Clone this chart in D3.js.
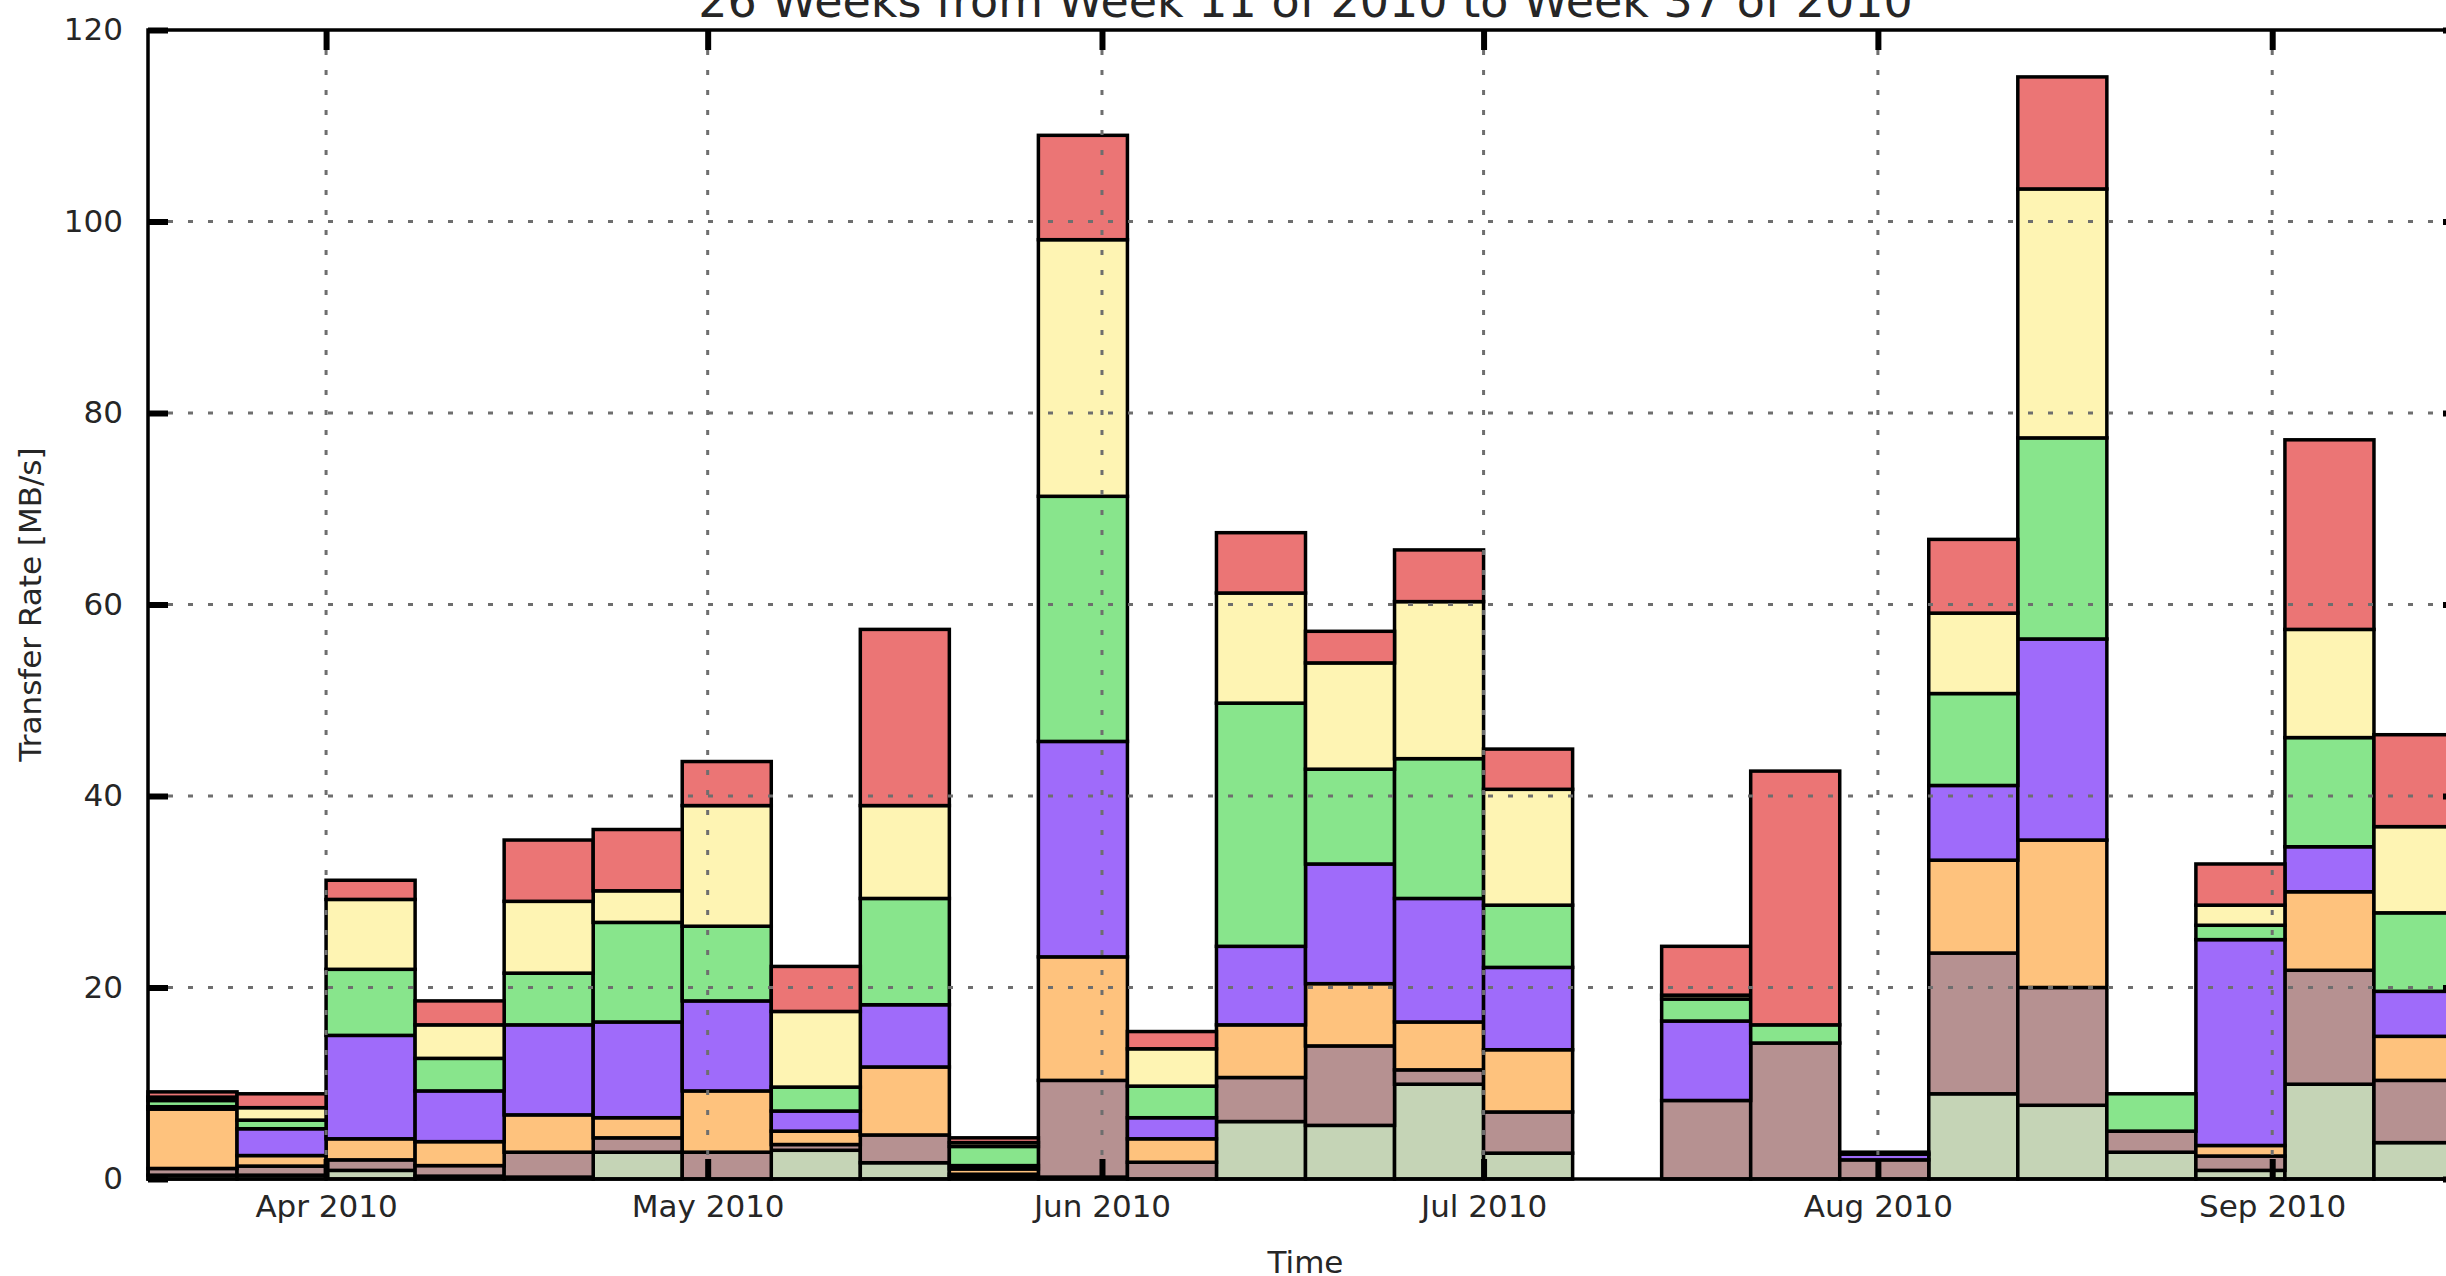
<!DOCTYPE html>
<html>
<head>
<meta charset="utf-8">
<script src="https://cdn.jsdelivr.net/npm/d3@7"></script>
<style>
  html, body { margin: 0; padding: 0; background: #fff; }
  svg { display: block; font-family: "DejaVu Sans", sans-serif; }
</style>
</head>
<body>
<svg id="chart" width="2446" height="1276"></svg>
<script>
// Weekly bins (start date of each week) and the end of the last bin
const weekStarts = [
  "2010-03-18", "2010-03-25", "2010-04-01", "2010-04-08", "2010-04-15", "2010-04-22",
  "2010-04-29", "2010-05-06", "2010-05-13", "2010-05-20", "2010-05-27", "2010-06-03",
  "2010-06-10", "2010-06-17", "2010-06-24", "2010-07-01", "2010-07-08", "2010-07-15",
  "2010-07-22", "2010-07-29", "2010-08-05", "2010-08-12", "2010-08-19", "2010-08-26",
  "2010-09-02", "2010-09-09"
];
const periodEnd = "2010-09-16";

// Transfer rate per week [MB/s], one array per stacked layer (bottom to top)
const series1 = [0.4, 0.4, 0.9, 0.3, 0.2, 2.8, 0.0, 3.0, 1.7, 0.2, 0.2, 0.0, 6.0, 5.6, 9.9, 2.7, 0, 0.0, 0.0, 0.0, 8.9, 7.7, 2.8, 0.9, 9.9, 3.8];
const series2 = [0.7, 0.95, 1.1, 1.1, 2.6, 1.5, 2.8, 0.6, 2.9, 0.3, 10.1, 1.75, 4.6, 8.3, 1.5, 4.3, 0, 8.2, 14.2, 2.0, 14.7, 12.3, 2.2, 1.5, 11.9, 6.5];
const series3 = [6.2, 1.1, 2.2, 2.5, 3.9, 2.1, 6.4, 1.4, 7.1, 0.55, 12.9, 2.45, 5.5, 6.5, 5.0, 6.5, 0, 0.0, 0.0, 0.0, 9.7, 15.4, 0.0, 1.1, 8.2, 4.6];
const series4 = [0.25, 2.8, 10.8, 5.3, 9.4, 10.0, 9.4, 2.1, 6.5, 0.35, 22.5, 2.2, 8.2, 12.5, 12.9, 8.6, 0, 8.3, 0.0, 0.6, 7.8, 21.0, 0.0, 21.5, 4.7, 4.7];
const series5 = [0.65, 0.9, 6.9, 3.4, 5.4, 10.4, 7.8, 2.5, 11.1, 2.0, 25.6, 3.3, 25.4, 9.9, 14.6, 6.5, 0, 2.3, 1.9, 0.0, 9.6, 21.0, 3.9, 1.5, 11.4, 8.2];
const series6 = [0.35, 1.3, 7.3, 3.5, 7.5, 3.3, 12.6, 7.9, 9.7, 0.4, 26.8, 3.9, 11.5, 11.1, 16.4, 12.1, 0, 0.4, 0.0, 0.0, 8.4, 26.0, 0.0, 2.1, 11.3, 9.0];
const series7 = [0.55, 1.45, 2.0, 2.5, 6.4, 6.4, 4.6, 4.7, 18.4, 0.5, 10.9, 1.8, 6.3, 3.3, 5.4, 4.2, 0, 5.1, 26.5, 0.2, 7.7, 11.7, 0.0, 4.3, 19.8, 9.6];

const seriesKeys = ["series1", "series2", "series3", "series4", "series5", "series6", "series7"];
const seriesValues = [series1, series2, series3, series4, series5, series6, series7];
const seriesColors = ["#c5d4b6", "#b69191", "#fec27d", "#9f6bfa", "#88e58c", "#fef4b3", "#eb7575"];

// Axis ticks and labels
const yTicks = [0, 20, 40, 60, 80, 100, 120];
const monthTicks = ["2010-04-01", "2010-05-01", "2010-06-01", "2010-07-01", "2010-08-01", "2010-09-01"];
const titleText = "26 Weeks from Week 11 of 2010 to Week 37 of 2010";
const xLabel = "Time";
const yLabel = "Transfer Rate [MB/s]";

// ---- layout ----
const W = 2446, H = 1276;
const plot = { left: 148, right: 2463, top: 30, bottom: 1179 };
const textColor = "#262626";
const fontSize = 31;

const parse = d3.utcParse("%Y-%m-%d");
const svg = d3.select("#chart");

const x = d3.scaleUtc()
  .domain([parse(weekStarts[0]), parse(periodEnd)])
  .range([plot.left, plot.right]);
const y = d3.scaleLinear()
  .domain([0, 120])
  .range([plot.bottom, plot.top]);

// Stack the layers week by week
const rows = weekStarts.map((d, i) => {
  const row = { start: parse(d), end: parse(i + 1 < weekStarts.length ? weekStarts[i + 1] : periodEnd) };
  seriesKeys.forEach((k, j) => { row[k] = seriesValues[j][i]; });
  return row;
});
const stacked = d3.stack().keys(seriesKeys)(rows);

const barsG = svg.append("g").attr("class", "bars");
stacked.forEach((layer, j) => {
  barsG.append("g")
    .attr("fill", seriesColors[j])
    .selectAll("rect")
    .data(layer.filter(d => d[1] - d[0] > 0))
    .join("rect")
    .attr("x", d => x(d.data.start))
    .attr("width", d => x(d.data.end) - x(d.data.start))
    .attr("y", d => y(d[1]))
    .attr("height", d => y(d[0]) - y(d[1]))
    .attr("stroke", "#000")
    .attr("stroke-width", 3.5);
});

// Dotted grid drawn above the bars
const gridG = svg.append("g")
  .attr("stroke", "#6e6e6e")
  .attr("stroke-width", 3)
  .attr("stroke-dasharray", "5,15");
gridG.selectAll("line.h")
  .data(yTicks.filter(v => v > 0 && v < 120))
  .join("line")
  .attr("x1", plot.left).attr("x2", plot.right)
  .attr("y1", d => y(d)).attr("y2", d => y(d));
gridG.selectAll("line.v")
  .data(monthTicks.map(parse))
  .join("line")
  .attr("x1", d => x(d)).attr("x2", d => x(d))
  .attr("y1", plot.top).attr("y2", plot.bottom);

// Axes: inward ticks on all four sides
const tickLen = 20;
const styleAxis = g => {
  g.select(".domain").remove();
  g.selectAll(".tick line").attr("stroke", "#000").attr("stroke-width", 6);
  g.selectAll(".tick text")
    .attr("fill", textColor)
    .attr("font-size", fontSize)
    .attr("font-family", "DejaVu Sans, sans-serif");
};

svg.append("g")
  .attr("transform", `translate(${plot.left},0)`)
  .call(d3.axisLeft(y).tickValues(yTicks).tickSizeInner(-tickLen).tickSizeOuter(0).tickPadding(25))
  .call(styleAxis);

svg.append("g")
  .attr("transform", `translate(${plot.right},0)`)
  .call(d3.axisRight(y).tickValues(yTicks).tickSizeInner(-tickLen).tickSizeOuter(0).tickFormat(""))
  .call(styleAxis);

svg.append("g")
  .attr("transform", `translate(0,${plot.bottom})`)
  .call(d3.axisBottom(x).tickValues(monthTicks.map(parse)).tickFormat(d3.utcFormat("%b %Y"))
    .tickSizeInner(-tickLen).tickSizeOuter(0).tickPadding(16))
  .call(styleAxis);

svg.append("g")
  .attr("transform", `translate(0,${plot.top})`)
  .call(d3.axisTop(x).tickValues(monthTicks.map(parse)).tickFormat("")
    .tickSizeInner(-tickLen).tickSizeOuter(0))
  .call(styleAxis);

// Frame
svg.append("rect")
  .attr("x", plot.left).attr("y", plot.top)
  .attr("width", plot.right - plot.left).attr("height", plot.bottom - plot.top)
  .attr("fill", "none").attr("stroke", "#000").attr("stroke-width", 3.5);

// Title and axis labels
svg.append("text")
  .attr("x", (plot.left + plot.right) / 2).attr("y", 17)
  .attr("text-anchor", "middle")
  .attr("font-size", 46).attr("fill", textColor)
  .text(titleText);

svg.append("text")
  .attr("x", (plot.left + plot.right) / 2).attr("y", 1273)
  .attr("text-anchor", "middle")
  .attr("font-size", fontSize).attr("fill", textColor)
  .text(xLabel);

svg.append("text")
  .attr("transform", `translate(41,${(plot.top + plot.bottom) / 2}) rotate(-90)`)
  .attr("text-anchor", "middle")
  .attr("font-size", fontSize).attr("fill", textColor)
  .text(yLabel);
</script>
</body>
</html>
